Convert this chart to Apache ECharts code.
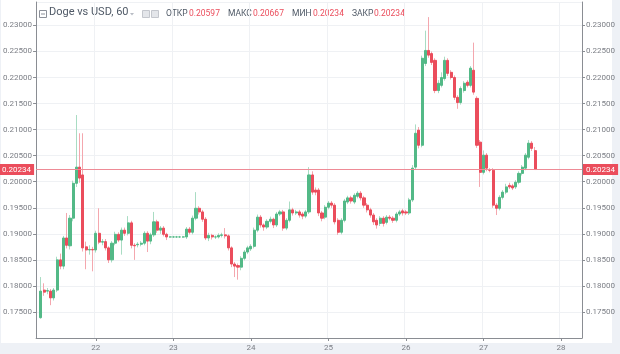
<!DOCTYPE html>
<html>
<head>
<meta charset="utf-8">
<script src="https://cdn.jsdelivr.net/npm/echarts@6/dist/echarts.min.js"></script>
<style>
  html, body { margin: 0; padding: 0; background: #eef1f6; }
  #frame { position: absolute; left: 1px; top: 0; width: 611px; height: 343px; background: #fff; }
  #chart { position: absolute; left: 0; top: 0; width: 620px; height: 354px; }
</style>
</head>
<body>
<div id="frame"></div>
<div id="chart"></div>
<script>
// hourly candles, Doge vs USD (60), from the 21st 07:00 to the 27th 16:00
const opens = [
  0.1739, 0.1792, 0.1790, 0.1790, 0.1777, 0.1792, 0.1850, 0.1838, 0.1892, 0.1877,
  0.1930, 0.1997, 0.2028, 0.2013, 0.1875, 0.1869, 0.1870, 0.1869, 0.1901, 0.1884,
  0.1885, 0.1873, 0.1850, 0.1882, 0.1899, 0.1888, 0.1907, 0.1901, 0.1921, 0.1878,
  0.1879, 0.1880, 0.1882, 0.1901, 0.1886, 0.1898, 0.1923, 0.1907, 0.1911, 0.1899,
  0.1894, 0.1894, 0.1894, 0.1894, 0.1894, 0.1894, 0.1909, 0.1903, 0.1930, 0.1949,
  0.1942, 0.1928, 0.1892, 0.1897, 0.1894, 0.1894, 0.1897, 0.1898, 0.1896, 0.1873,
  0.1842, 0.1839, 0.1836, 0.1853, 0.1865, 0.1871, 0.1876, 0.1907, 0.1932, 0.1917,
  0.1913, 0.1924, 0.1928, 0.1917, 0.1938, 0.1942, 0.1911, 0.1926, 0.1946, 0.1940,
  0.1942, 0.1938, 0.1934, 0.1942, 0.2013, 0.1984, 0.1984, 0.1940, 0.1932, 0.1951,
  0.1959, 0.1955, 0.1926, 0.1903, 0.1926, 0.1961, 0.1969, 0.1961, 0.1972, 0.1978,
  0.1969, 0.1955, 0.1946, 0.1936, 0.1926, 0.1920, 0.1930, 0.1922, 0.1932, 0.1930,
  0.1926, 0.1938, 0.1944, 0.1942, 0.1940, 0.1965, 0.2028, 0.2099, 0.2070, 0.2227,
  0.2252, 0.2246, 0.2233, 0.2175, 0.2185, 0.2198, 0.2233, 0.2210, 0.2200, 0.2162,
  0.2152, 0.2175, 0.2191, 0.2185, 0.2214, 0.2160, 0.2076, 0.2018, 0.2051, 0.2022,
  0.2022, 0.1955, 0.1949, 0.1970, 0.1980, 0.1993, 0.1992, 0.1990, 0.1999, 0.2016,
  0.2026, 0.2047, 0.2074, 0.20597
];
const closes = [
  0.1790, 0.1788, 0.1791, 0.1777, 0.1792, 0.1850, 0.1838, 0.1892, 0.1878, 0.1930,
  0.1997, 0.2028, 0.2007, 0.1873, 0.1869, 0.1870, 0.1869, 0.1901, 0.1884, 0.1885,
  0.1873, 0.1850, 0.1882, 0.1899, 0.1888, 0.1907, 0.1901, 0.1921, 0.1878, 0.1877,
  0.1880, 0.1882, 0.1901, 0.1886, 0.1898, 0.1923, 0.1907, 0.1911, 0.1899, 0.1894,
  0.1894, 0.1894, 0.1894, 0.1894, 0.1894, 0.1909, 0.1903, 0.1930, 0.1949, 0.1942,
  0.1928, 0.1892, 0.1897, 0.1894, 0.1894, 0.1897, 0.1898, 0.1896, 0.1873, 0.1842,
  0.1838, 0.1836, 0.1853, 0.1865, 0.1873, 0.1876, 0.1907, 0.1932, 0.1917, 0.1913,
  0.1924, 0.1928, 0.1917, 0.1938, 0.1942, 0.1911, 0.1926, 0.1946, 0.1940, 0.1942,
  0.1936, 0.1934, 0.1942, 0.2013, 0.1980, 0.1980, 0.1940, 0.1930, 0.1951, 0.1959,
  0.1955, 0.1923, 0.1903, 0.1926, 0.1963, 0.1969, 0.1963, 0.1974, 0.1978, 0.1969,
  0.1955, 0.1946, 0.1936, 0.1923, 0.1917, 0.1930, 0.1920, 0.1932, 0.1930, 0.1926,
  0.1938, 0.1942, 0.1940, 0.1940, 0.1965, 0.2026, 0.2093, 0.2070, 0.2237, 0.2252,
  0.2243, 0.2229, 0.2175, 0.2189, 0.2200, 0.2233, 0.2208, 0.2200, 0.2162, 0.2152,
  0.2179, 0.2189, 0.2185, 0.2218, 0.2172, 0.2070, 0.2018, 0.2051, 0.2026, 0.2022,
  0.1955, 0.1949, 0.1970, 0.1980, 0.1990, 0.1990, 0.1988, 0.1999, 0.2016, 0.2028,
  0.2051, 0.2074, 0.2064, 0.20234
];
const lows = [
  0.1737, 0.1781, 0.1784, 0.1763, 0.1772, 0.1788, 0.1832, 0.1832, 0.1872, 0.1870,
  0.1924, 0.1990, 0.1998, 0.1866, 0.1832, 0.1860, 0.1828, 0.1864, 0.1880, 0.1878,
  0.1868, 0.1844, 0.1845, 0.1878, 0.1884, 0.1860, 0.1896, 0.1897, 0.1872, 0.1850,
  0.1874, 0.1876, 0.1878, 0.1865, 0.1880, 0.1894, 0.1902, 0.1900, 0.1895, 0.1888,
  0.1892, 0.1892, 0.1892, 0.1892, 0.1892, 0.1890, 0.1899, 0.1899, 0.1926, 0.1937,
  0.1923, 0.1888, 0.1886, 0.1889, 0.1890, 0.1891, 0.1893, 0.1891, 0.1868, 0.1836,
  0.1817, 0.1812, 0.1830, 0.1849, 0.1861, 0.1867, 0.1872, 0.1903, 0.1912, 0.1906,
  0.1909, 0.1920, 0.1911, 0.1913, 0.1934, 0.1906, 0.1907, 0.1922, 0.1935, 0.1936,
  0.1931, 0.1928, 0.1930, 0.1938, 0.1975, 0.1974, 0.1934, 0.1924, 0.1928, 0.1947,
  0.1950, 0.1918, 0.1898, 0.1899, 0.1922, 0.1957, 0.1958, 0.1957, 0.1968, 0.1964,
  0.1950, 0.1941, 0.1931, 0.1917, 0.1910, 0.1915, 0.1914, 0.1918, 0.1926, 0.1921,
  0.1922, 0.1934, 0.1935, 0.1936, 0.1936, 0.1961, 0.2024, 0.2064, 0.2066, 0.2222,
  0.2238, 0.2224, 0.2170, 0.2170, 0.2181, 0.2194, 0.2203, 0.2196, 0.2157, 0.2140,
  0.2148, 0.2171, 0.2181, 0.2181, 0.2167, 0.2065, 0.1990, 0.2014, 0.2020, 0.2018,
  0.1950, 0.1936, 0.1945, 0.1966, 0.1976, 0.1986, 0.1984, 0.1986, 0.1995, 0.2012,
  0.2022, 0.2043, 0.2059, 0.20234
];
const highs = [
  0.1817, 0.1805, 0.1796, 0.1794, 0.1796, 0.1856, 0.1862, 0.1896, 0.1940, 0.1936,
  0.2002, 0.2128, 0.2093, 0.2093, 0.1885, 0.1878, 0.1875, 0.1906, 0.1949, 0.1890,
  0.1890, 0.1876, 0.1886, 0.1904, 0.1903, 0.1912, 0.1912, 0.1934, 0.1925, 0.1882,
  0.1884, 0.1886, 0.1905, 0.1905, 0.1902, 0.1942, 0.1927, 0.1915, 0.1915, 0.1902,
  0.1896, 0.1896, 0.1896, 0.1896, 0.1896, 0.1913, 0.1913, 0.1935, 0.1980, 0.1953,
  0.1946, 0.1932, 0.1902, 0.1900, 0.1897, 0.1901, 0.1902, 0.1911, 0.1899, 0.1876,
  0.1846, 0.1843, 0.1857, 0.1869, 0.1877, 0.1880, 0.1912, 0.1937, 0.1936, 0.1920,
  0.1928, 0.1933, 0.1931, 0.1942, 0.1946, 0.1946, 0.1930, 0.1962, 0.1950, 0.1946,
  0.1946, 0.1942, 0.1946, 0.2028, 0.2020, 0.1989, 0.1988, 0.1944, 0.1955, 0.1963,
  0.1963, 0.1959, 0.1930, 0.1930, 0.1967, 0.1973, 0.1973, 0.1978, 0.1982, 0.1982,
  0.1973, 0.1959, 0.1950, 0.1940, 0.1930, 0.1934, 0.1934, 0.1936, 0.1936, 0.1934,
  0.1942, 0.1946, 0.1948, 0.1946, 0.1969, 0.2032, 0.2110, 0.2105, 0.2242, 0.2290,
  0.2316, 0.2250, 0.2237, 0.2195, 0.2210, 0.2240, 0.2237, 0.2214, 0.2204, 0.2166,
  0.2183, 0.2193, 0.2195, 0.2222, 0.2267, 0.2164, 0.2080, 0.2060, 0.2055, 0.2026,
  0.2026, 0.1959, 0.1974, 0.1984, 0.1996, 0.1998, 0.1996, 0.2003, 0.2020, 0.2032,
  0.2055, 0.2080, 0.2078, 0.20667
];

const yTicks = { min: 0.17, max: 0.2345, step: 0.005 };
const firstDay = 21, firstHour = 6, hourCount = 169, leadEmpty = 1;

const upColor = '#53b987', downColor = '#eb4d5c';
const upWick = '#a9dcc3', downWick = '#f4a7ae';
const axisGray = '#8a8d93', labelGray = '#7b7e85';
const font = 'Roboto, "Noto Sans", sans-serif';

const hours = [];
for (let i = 0; i < hourCount; i++) {
  const t = firstHour + i;
  const d = firstDay + Math.floor(t / 24);
  const h = t % 24;
  hours.push(d + ' ' + (h < 10 ? '0' + h : h) + ':00');
}
const isMidnight = (idx, val) => val.endsWith(' 00:00');

const wickData = [], bodyData = [];
for (let i = 0; i < leadEmpty; i++) { wickData.push('-'); bodyData.push('-'); }
opens.forEach((o, i) => {
  const c = closes[i];
  wickData.push([o, c, lows[i], highs[i]]);
  bodyData.push([o, c, Math.min(o, c), Math.max(o, c)]);
});
const last = closes[closes.length - 1];
const lastText = last.toFixed(5);

const chart = echarts.init(document.getElementById('chart'), null, { renderer: 'canvas' });

const yAxisBase = {
  type: 'value',
  min: yTicks.min,
  max: yTicks.max,
  interval: yTicks.step,
  scale: true,
  axisLine: { show: true, lineStyle: { color: axisGray, width: 1 } },
  axisTick: { show: true, length: 3, lineStyle: { color: axisGray } },
  axisLabel: {
    showMinLabel: false, showMaxLabel: false,
    color: labelGray, fontSize: 8, fontFamily: font, margin: 4,
    formatter: v => v.toFixed(5)
  }
};

const priceLabel = {
  show: true,
  formatter: lastText,
  color: '#fff',
  backgroundColor: downColor,
  fontSize: 8,
  fontFamily: font,
  padding: [2, 3, 1, 3]
};

const header = [
  { x: 49, text: 'Doge vs USD, 60', size: 11, color: '#4f5966' },
  { x: 166, text: 'ОТКР', size: 8.5, color: '#4f5966' },
  { x: 189, text: opens[opens.length - 1].toFixed(5), size: 8.5, color: downColor },
  { x: 228, text: 'МАКС', size: 8.5, color: '#4f5966' },
  { x: 253, text: highs[highs.length - 1].toFixed(5), size: 8.5, color: downColor },
  { x: 292, text: 'МИН', size: 8.5, color: '#4f5966' },
  { x: 313, text: lows[lows.length - 1].toFixed(5), size: 8.5, color: downColor },
  { x: 352, text: 'ЗАКР', size: 8.5, color: '#4f5966' },
  { x: 374, text: lastText, size: 8.5, color: downColor }
];

chart.setOption({
  animation: false,
  grid: { left: 33, right: 38, top: 2, height: 336 },
  xAxis: {
    type: 'category',
    data: hours,
    boundaryGap: true,
    axisLine: { show: true, lineStyle: { color: axisGray } },
    axisTick: { show: true, interval: isMidnight, alignWithLabel: true, length: 3, lineStyle: { color: axisGray } },
    axisLabel: {
      interval: isMidnight, color: labelGray, fontSize: 8, fontFamily: font, margin: 6,
      formatter: v => v.split(' ')[0]
    },
    splitLine: { show: true, interval: isMidnight, lineStyle: { color: '#eff1f4' } }
  },
  yAxis: [
    Object.assign({}, yAxisBase, {
      position: 'left',
      splitLine: { show: true, lineStyle: { color: '#eff1f4' } }
    }),
    Object.assign({}, yAxisBase, {
      position: 'right',
      splitLine: { show: false }
    })
  ],
  series: [
    {
      name: 'price',
      type: 'line',
      data: [],
      silent: true,
      z: 3,
      markLine: {
        silent: true,
        precision: 5,
        symbol: ['none', 'none'],
        animation: false,
        lineStyle: { color: '#ee8b96', width: 1, type: 'solid', opacity: 1 },
        label: priceLabel,
        data: [
          { yAxis: last, label: { position: 'start', distance: 2 } },
          { yAxis: last, label: { position: 'end', distance: 1 } }
        ]
      }
    },
    {
      name: 'wick',
      type: 'candlestick',
      data: wickData,
      barWidth: 1,
      silent: true,
      itemStyle: {
        color: upWick, color0: downWick,
        borderColor: upWick, borderColor0: downWick, borderWidth: 1
      }
    },
    {
      name: 'body',
      type: 'candlestick',
      data: bodyData,
      barWidth: 2.6,
      silent: true,
      itemStyle: {
        color: upColor, color0: downColor,
        borderColor: upColor, borderColor0: downColor, borderWidth: 1
      }
    }
  ],
  graphic: [
    { type: 'rect', shape: { x: 39.5, y: 10.5, width: 7, height: 7 }, style: { fill: '#fff', stroke: '#8c9099', lineWidth: 1 } },
    { type: 'line', shape: { x1: 41, y1: 14, x2: 45, y2: 14 }, style: { stroke: '#8c9099', lineWidth: 1 } },
    { type: 'polygon', shape: { points: [[130, 13], [134, 13], [132, 15.5]] }, style: { fill: '#b8bcc4' } },
    { type: 'rect', shape: { x: 142.5, y: 10.5, width: 7, height: 7 }, style: { fill: '#e4e6ea', stroke: '#c4c7cd', lineWidth: 1 } },
    { type: 'rect', shape: { x: 151.5, y: 10.5, width: 7, height: 7 }, style: { fill: '#e4e6ea', stroke: '#c4c7cd', lineWidth: 1 } }
  ].concat(header.map(h => ({
    type: 'text',
    left: h.x,
    top: h.size > 10 ? 7 : 9.5,
    style: { text: h.text, fill: h.color, font: h.size + 'px ' + font }
  })))
});
</script>
</body>
</html>
